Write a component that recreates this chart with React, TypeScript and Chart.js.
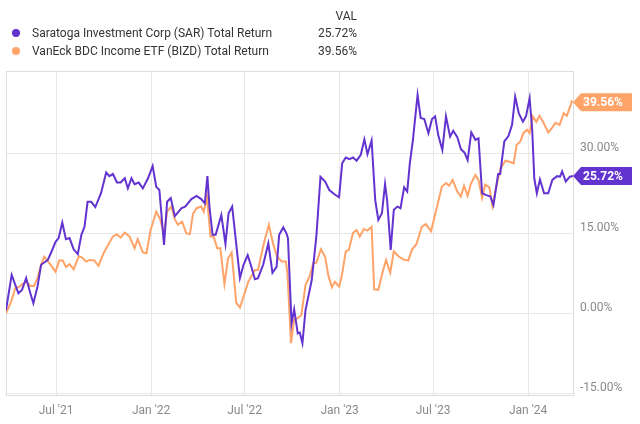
import React, { useEffect, useRef } from "react";
import { Chart, registerables } from "chart.js";

Chart.register(...registerables);

// Days since 2021-03-26
const sarDays = [0, 11, 24, 31, 39, 47, 53, 61, 68, 81, 87, 96, 102, 109, 116, 123, 131, 139, 146, 152, 158, 165, 173, 184, 194, 200, 207, 215, 222, 230, 236, 243, 249, 257, 265, 275, 284, 291, 297, 306, 312, 319, 327, 340, 347, 359, 369, 378, 385, 390, 394, 400, 406, 417, 425, 431, 438, 453, 460, 468, 474, 482, 488, 498, 508, 516, 524, 529, 537, 543, 546, 553, 558, 565, 569, 574, 580, 592, 601, 609, 618, 626, 636, 645, 651, 658, 665, 672, 679, 687, 694, 700, 708, 715, 721, 728, 734, 738, 745, 751, 758, 764, 771, 777, 782, 788, 797, 803, 810, 818, 825, 831, 837, 845, 852, 860, 866, 874, 881, 888, 894, 901, 909, 915, 922, 929, 938, 944, 953, 957, 965, 973, 980, 986, 993, 1001, 1007, 1014, 1019, 1023, 1028, 1034, 1042, 1050, 1058, 1067, 1073, 1077, 1084, 1092, 1098];
const sarValues = [0.6, 7.2, 3.75, 4.4, 6.6, 3.8, 1.9, 5.0, 9.1, 10.0, 11.3, 13.4, 14.1, 17.0, 13.9, 14.1, 12.0, 11.1, 14.7, 16.2, 20.9, 20.9, 19.9, 22.5, 26.4, 25.7, 26.1, 24.5, 24.5, 25.3, 23.4, 25.3, 24.2, 24.5, 23.4, 25.3, 27.6, 23.7, 23.1, 12.8, 20.9, 21.6, 18.2, 19.7, 20.0, 21.4, 22.0, 21.4, 20.6, 25.7, 20.0, 14.7, 14.7, 18.4, 13.0, 18.75, 20.0, 6.6, 9.1, 10.9, 9.1, 6.4, 6.6, 9.1, 13.1, 7.6, 8.7, 14.7, 16.1, 15.0, 14.1, -1.9, 0.75, -3.75, -3.6, -5.6, 0.6, 6.2, 14.4, 25.6, 24.7, 23.1, 22.3, 21.75, 28.1, 29.2, 28.9, 29.2, 28.6, 29.7, 32.6, 29.8, 32.4, 21.2, 17.5, 18.75, 24.2, 21.2, 11.9, 19.4, 20.0, 19.7, 23.6, 22.8, 28.1, 32.5, 40.9, 36.6, 36.4, 33.75, 36.4, 36.9, 33.4, 30.6, 36.9, 33.1, 34.2, 33.0, 30.75, 30.1, 28.7, 33.9, 32.5, 32.8, 22.5, 22.2, 21.9, 20.3, 26.1, 26.1, 32.2, 33.2, 35.3, 40.6, 37.5, 35.9, 36.9, 40.3, 34.4, 25.3, 22.5, 25.1, 22.5, 22.5, 25.0, 25.7, 25.6, 26.6, 24.7, 25.6, 25.72];

const bizdDays = [0, 10, 18, 26, 34, 40, 47, 54, 61, 68, 74, 84, 96, 103, 110, 116, 123, 131, 141, 147, 155, 162, 171, 179, 189, 200, 207, 215, 222, 230, 239, 249, 255, 265, 272, 280, 291, 299, 306, 312, 320, 327, 333, 341, 349, 356, 362, 369, 378, 383, 389, 396, 402, 409, 415, 423, 430, 437, 446, 453, 462, 469, 475, 482, 488, 495, 501, 509, 517, 525, 534, 542, 545, 552, 558, 565, 572, 580, 588, 595, 601, 610, 618, 624, 631, 637, 645, 650, 658, 664, 672, 679, 685, 693, 700, 708, 713, 721, 729, 736, 744, 751, 760, 769, 779, 786, 795, 805, 813, 823, 834, 844, 852, 858, 865, 874, 881, 887, 894, 900, 909, 915, 922, 928, 936, 942, 951, 958, 967, 975, 983, 989, 996, 1002, 1009, 1014, 1020, 1027, 1033, 1041, 1050, 1057, 1064, 1072, 1080, 1086, 1096, 1098];
const bizdValues = [0, 2.2, 4.7, 5.0, 5.6, 5.9, 5.1, 5.1, 6.6, 9.1, 10.6, 9.4, 7.8, 9.9, 9.9, 8.7, 9.2, 8.25, 10.7, 10.5, 9.7, 10.0, 9.9, 8.9, 11.25, 13.2, 14.4, 14.8, 14.2, 15.1, 14.4, 12.2, 13.9, 11.4, 11.25, 15.6, 19.05, 17.5, 14.7, 19.05, 20.0, 17.6, 16.6, 17.2, 15.0, 14.8, 18.6, 19.7, 20.0, 19.05, 21.9, 14.4, 14.4, 12.2, 12.2, 5.5, 10.3, 11.4, 1.9, 1.1, 3.75, 5.9, 6.9, 8.1, 8.1, 11.25, 13.75, 16.6, 13.1, 10.6, 9.7, 9.7, 7.5, -5.6, -1.1, -0.9, -0.3, 5.3, 6.9, 9.4, 9.5, 12.0, 10.6, 7.2, 4.9, 5.9, 5.0, 6.9, 11.6, 11.9, 15.1, 15.6, 14.4, 15.8, 15.5, 16.2, 4.5, 4.4, 7.6, 10.0, 7.6, 11.6, 10.7, 10.1, 9.9, 11.9, 13.0, 16.2, 16.7, 15.4, 19.7, 23.7, 24.4, 23.9, 25.0, 22.8, 21.9, 23.9, 22.0, 24.2, 25.9, 25.0, 21.6, 24.1, 23.6, 20.1, 24.4, 27.2, 28.6, 28.4, 28.1, 31.6, 32.2, 33.75, 34.4, 33.75, 36.9, 35.9, 37.0, 35.7, 33.9, 34.7, 35.7, 35.3, 37.5, 37.0, 39.7, 39.56];

const tickDays = [97, 281, 462, 646, 827, 1011];
const tickLabels = ["Jul '21", "Jan '22", "Jul '22", "Jan '23", "Jul '23", "Jan '24"];
const yTicks = [-15, 0, 15, 30];
const seriesNames = [
  "Saratoga Investment Corp (SAR) Total Return",
  "VanEck BDC Income ETF (BIZD) Total Return",
];
const seriesColors = ["#6233cf", "#ffa369"];

const FONT = "Roboto, 'Noto Sans', sans-serif";

const framePlugin = {
  id: "frame",
  beforeDatasetsDraw(chart: any) {
    const { ctx, chartArea } = chart;
    ctx.save();
    ctx.strokeStyle = "#dedede";
    ctx.lineWidth = 1;
    ctx.strokeRect(
      Math.round(chartArea.left) + 0.5,
      Math.round(chartArea.top) + 0.5,
      Math.round(chartArea.right - chartArea.left),
      Math.round(chartArea.bottom - chartArea.top)
    );
    ctx.restore();
  },
};

const tagPlugin = {
  id: "tags",
  afterDatasetsDraw(chart: any) {
    const { ctx, chartArea } = chart;
    const yScale = chart.scales.y;
    chart.data.datasets.forEach((ds: any) => {
      const last = ds.data[ds.data.length - 1];
      const y = yScale.getPixelForValue(last.y);
      const x0 = chartArea.right;
      ctx.save();
      ctx.fillStyle = ds.borderColor;
      ctx.beginPath();
      ctx.moveTo(x0, y);
      ctx.lineTo(x0 + 8, y - 9);
      ctx.lineTo(x0 + 59, y - 9);
      ctx.lineTo(x0 + 59, y + 9);
      ctx.lineTo(x0 + 8, y + 9);
      ctx.closePath();
      ctx.fill();
      ctx.fillStyle = "#ffffff";
      ctx.font = `bold 12px ${FONT}`;
      ctx.textAlign = "left";
      ctx.textBaseline = "middle";
      ctx.fillText(last.y.toFixed(2) + "%", x0 + 10, y + 0.5);
      ctx.restore();
    });
  },
};

export default function App() {
  const canvasRef = useRef<HTMLCanvasElement | null>(null);

  useEffect(() => {
    if (!canvasRef.current) return;
    const sar = sarDays.map((d, i) => ({ x: d, y: sarValues[i] }));
    const bizd = bizdDays.map((d, i) => ({ x: d, y: bizdValues[i] }));
    const chart = new Chart(canvasRef.current, {
      type: "line",
      data: {
        datasets: [
          {
            label: seriesNames[0],
            data: sar,
            borderColor: seriesColors[0],
            backgroundColor: seriesColors[0],
            borderWidth: 2,
            pointRadius: 0,
            tension: 0,
          },
          {
            label: seriesNames[1],
            data: bizd,
            borderColor: seriesColors[1],
            backgroundColor: seriesColors[1],
            borderWidth: 2,
            pointRadius: 0,
            tension: 0,
          },
        ],
      },
      options: {
        animation: false,
        responsive: false,
        devicePixelRatio: 1,
        layout: { padding: { top: 71, left: 6, right: 0, bottom: 0 } },
        plugins: {
          legend: { display: false },
          tooltip: { enabled: false },
        },
        scales: {
          x: {
            type: "linear",
            min: 0,
            max: 1098,
            afterBuildTicks: (axis: any) => {
              axis.ticks = tickDays.map((v) => ({ value: v }));
            },
            afterFit: (axis: any) => {
              axis.height = 29;
            },
            grid: { color: "#e8e8e8", lineWidth: 1, drawTicks: false },
            border: { display: false },
            ticks: {
              autoSkip: false,
              maxRotation: 0,
              padding: 9,
              color: "#8a8a8a",
              font: { family: FONT, size: 12 },
              callback: (value: any) => {
                const i = tickDays.indexOf(Number(value));
                return i >= 0 ? tickLabels[i] : "";
              },
            },
          },
          y: {
            position: "right",
            min: -15.3,
            max: 45.4,
            afterBuildTicks: (axis: any) => {
              axis.ticks = yTicks.map((v) => ({ value: v }));
            },
            afterFit: (axis: any) => {
              axis.width = 67;
            },
            grid: { color: "#e8e8e8", lineWidth: 1, drawTicks: false },
            border: { display: false },
            ticks: {
              padding: 7,
              labelOffset: -5,
              color: "#8a8a8a",
              font: { family: FONT, size: 12 },
              callback: (value: any) => Number(value).toFixed(2) + "%",
            },
          },
        },
      },
      plugins: [framePlugin, tagPlugin],
    });
    return () => chart.destroy();
  }, []);

  const legendRow = (i: number, top: number, value: number) => (
    <div
      key={i}
      style={{ position: "absolute", left: 0, top, width: 360, height: 16 }}
    >
      <span
        style={{
          position: "absolute",
          left: 12,
          top: 4,
          width: 8,
          height: 8,
          borderRadius: 4,
          background: seriesColors[i],
        }}
      />
      <span style={{ position: "absolute", left: 32, top: 0, lineHeight: "16px" }}>
        {seriesNames[i]}
      </span>
      <span
        style={{
          position: "absolute",
          right: 3,
          top: 0,
          lineHeight: "16px",
        }}
      >
        {value.toFixed(2) + "%"}
      </span>
    </div>
  );

  return (
    <div
      style={{
        position: "fixed",
        left: 0,
        top: 0,
        width: 640,
        height: 424,
        background: "#ffffff",
        fontFamily: FONT,
        fontSize: 12,
        color: "#333333",
      }}
    >
      <canvas
        ref={canvasRef}
        width={640}
        height={424}
        style={{ position: "absolute", left: 0, top: 0, width: 640, height: 424 }}
      />
      <div
        style={{
          position: "absolute",
          left: 0,
          top: 8,
          width: 357,
          textAlign: "right",
          lineHeight: "16px",
        }}
      >
        VAL
      </div>
      {legendRow(0, 25, sarValues[sarValues.length - 1])}
      {legendRow(1, 43, bizdValues[bizdValues.length - 1])}
    </div>
  );
}
